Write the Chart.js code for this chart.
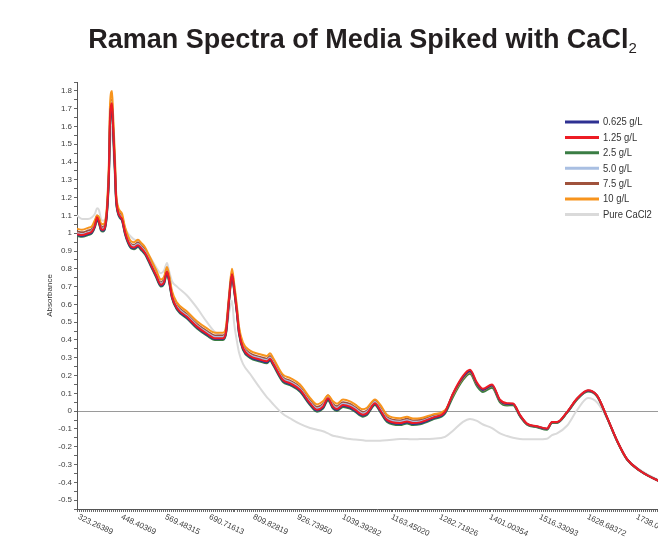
<!DOCTYPE html>
<html>
<head>
<meta charset="utf-8">
<script src="https://cdn.jsdelivr.net/npm/chart.js@4.4.1/dist/chart.umd.min.js"></script>
<style>
  html, body { margin: 0; padding: 0; background: #fff; width: 658px; height: 541px; overflow: hidden; }
  #wrap { position: relative; width: 658px; height: 541px; overflow: hidden; }
  #chart { position: absolute; left: 0; top: 0; }
  #title { position: absolute; left: 0; top: 24px; width: 725px; text-align: center; white-space: nowrap;
           font: bold 27px "Liberation Sans", Arial, sans-serif; color: #231f20; z-index: 2; }
  #title sub { font-size: 15px; font-weight: normal; vertical-align: -5px; line-height: 0; }
</style>
</head>
<body>
<div id="wrap">
  <canvas id="chart" width="680" height="541"></canvas>
  <div id="title">Raman Spectra of Media Spiked with CaCl<sub>2</sub></div>
</div>
<script>
// Detector channel of each sampled point along the spectrum
const channel = [
  0, 5, 11, 15, 18, 20, 22, 24, 26, 28,
  30, 32, 33, 35, 36, 38, 39, 41, 43, 45,
  48, 51, 54, 57, 61, 64, 68, 73, 79, 84,
  87, 90, 92, 95, 100, 110, 120, 130, 138, 146,
  149, 152, 155, 157, 160, 162, 166, 173, 183, 190,
  193, 196, 206, 213, 223, 233, 240, 246, 251, 256,
  260, 266, 273, 278, 286, 290, 298, 303, 310, 323,
  330, 336, 343, 356, 368, 376, 386, 393, 400, 406,
  415, 423, 430, 436, 443, 450, 460, 470, 475, 480,
  490, 500, 511, 520, 530, 540, 550, 563, 581, 591
];

// Absorbance of each sample at those channels
const media0625 = [
  0.99, 0.985, 0.995, 1.005, 1.04, 1.08, 1.06, 1.02, 1.015, 1.03,
  1.12, 1.35, 1.62, 1.72, 1.6, 1.35, 1.2, 1.115, 1.09, 1.075,
  1.0, 0.95, 0.92, 0.915, 0.928, 0.912, 0.886, 0.83, 0.76, 0.705,
  0.72, 0.78, 0.735, 0.64, 0.575, 0.525, 0.47, 0.43, 0.405, 0.405,
  0.44, 0.62, 0.765, 0.69, 0.55, 0.44, 0.35, 0.305, 0.285, 0.275,
  0.29, 0.265, 0.17, 0.152, 0.115, 0.04, 0.003, 0.02, 0.068, 0.02,
  0.007, 0.03, 0.02, 0.003, -0.025, -0.016, 0.04, 0.003, -0.054, -0.072,
  -0.063, -0.072, -0.068, -0.04, -0.007, 0.097, 0.19, 0.224, 0.153, 0.119,
  0.144, 0.059, 0.04, 0.04, -0.025, -0.072, -0.087, -0.1, -0.063, -0.063,
  -0.007, 0.069, 0.115, 0.087, -0.035, -0.166, -0.27, -0.335, -0.39, -0.41
];
const media125 = [
  0.995, 0.99, 1.0, 1.01, 1.045, 1.09, 1.065, 1.025, 1.02, 1.035,
  1.13, 1.36, 1.64, 1.73, 1.61, 1.36, 1.21, 1.12, 1.095, 1.08,
  1.005, 0.955, 0.925, 0.92, 0.933, 0.917, 0.89, 0.835, 0.765, 0.71,
  0.725, 0.785, 0.74, 0.645, 0.58, 0.53, 0.475, 0.435, 0.41, 0.41,
  0.445, 0.625, 0.77, 0.695, 0.555, 0.445, 0.355, 0.31, 0.29, 0.28,
  0.295, 0.27, 0.175, 0.157, 0.12, 0.045, 0.008, 0.025, 0.073, 0.025,
  0.012, 0.035, 0.025, 0.008, -0.02, -0.011, 0.045, 0.008, -0.049, -0.067,
  -0.058, -0.067, -0.063, -0.036, -0.003, 0.1, 0.198, 0.232, 0.16, 0.126,
  0.15, 0.064, 0.045, 0.043, -0.021, -0.07, -0.085, -0.098, -0.061, -0.061,
  -0.005, 0.071, 0.118, 0.089, -0.034, -0.165, -0.27, -0.335, -0.39, -0.41
];
const media25 = [
  0.985, 0.98, 0.99, 1.0, 1.035, 1.075, 1.055, 1.015, 1.01, 1.025,
  1.11, 1.33, 1.6, 1.7, 1.58, 1.33, 1.19, 1.11, 1.085, 1.07,
  0.995, 0.945, 0.915, 0.91, 0.922, 0.906, 0.88, 0.824, 0.754, 0.7,
  0.714, 0.772, 0.728, 0.634, 0.57, 0.52, 0.464, 0.424, 0.4, 0.4,
  0.434, 0.61, 0.755, 0.682, 0.544, 0.434, 0.344, 0.299, 0.279, 0.269,
  0.284, 0.259, 0.164, 0.146, 0.109, 0.034, -0.003, 0.014, 0.06, 0.014,
  0.001, 0.024, 0.014, -0.003, -0.031, -0.022, 0.034, -0.003, -0.06, -0.078,
  -0.069, -0.078, -0.074, -0.046, -0.014, 0.08, 0.175, 0.21, 0.14, 0.108,
  0.132, 0.05, 0.032, 0.033, -0.03, -0.076, -0.09, -0.104, -0.066, -0.066,
  -0.01, 0.064, 0.11, 0.083, -0.038, -0.168, -0.272, -0.336, -0.39, -0.41
];
const media50 = [
  1.0, 0.995, 1.005, 1.015, 1.05, 1.09, 1.07, 1.03, 1.025, 1.04,
  1.13, 1.36, 1.64, 1.74, 1.62, 1.36, 1.21, 1.125, 1.1, 1.087,
  1.012, 0.962, 0.932, 0.927, 0.94, 0.924, 0.898, 0.842, 0.772, 0.717,
  0.732, 0.79, 0.747, 0.652, 0.587, 0.537, 0.482, 0.442, 0.417, 0.417,
  0.452, 0.63, 0.775, 0.702, 0.562, 0.452, 0.362, 0.317, 0.297, 0.287,
  0.302, 0.277, 0.182, 0.164, 0.127, 0.052, 0.015, 0.032, 0.08, 0.032,
  0.019, 0.042, 0.032, 0.015, -0.013, -0.004, 0.052, 0.015, -0.042, -0.06,
  -0.051, -0.06, -0.058, -0.032, -0.002, 0.095, 0.19, 0.225, 0.154, 0.12,
  0.145, 0.06, 0.041, 0.041, -0.024, -0.071, -0.086, -0.099, -0.062, -0.062,
  -0.006, 0.07, 0.116, 0.088, -0.035, -0.166, -0.27, -0.335, -0.39, -0.41
];
const media75 = [
  1.01, 1.005, 1.015, 1.025, 1.06, 1.1, 1.08, 1.04, 1.035, 1.05,
  1.14, 1.38, 1.66, 1.75, 1.63, 1.38, 1.22, 1.135, 1.11, 1.095,
  1.02, 0.97, 0.94, 0.935, 0.948, 0.932, 0.906, 0.85, 0.78, 0.725,
  0.74, 0.795, 0.755, 0.66, 0.595, 0.545, 0.49, 0.45, 0.425, 0.425,
  0.46, 0.635, 0.78, 0.71, 0.57, 0.46, 0.37, 0.325, 0.305, 0.295,
  0.31, 0.285, 0.19, 0.172, 0.135, 0.06, 0.023, 0.04, 0.088, 0.04,
  0.027, 0.05, 0.04, 0.023, -0.005, 0.004, 0.06, 0.023, -0.034, -0.052,
  -0.043, -0.052, -0.05, -0.025, 0.0, 0.09, 0.185, 0.218, 0.148, 0.116,
  0.14, 0.056, 0.038, 0.039, -0.026, -0.073, -0.088, -0.101, -0.064, -0.064,
  -0.008, 0.068, 0.114, 0.086, -0.036, -0.167, -0.271, -0.335, -0.39, -0.41
];
const media10 = [
  1.025, 1.02, 1.03, 1.04, 1.075, 1.1, 1.09, 1.055, 1.05, 1.065,
  1.16, 1.42, 1.72, 1.8, 1.68, 1.42, 1.24, 1.15, 1.125, 1.11,
  1.035, 0.985, 0.955, 0.95, 0.963, 0.947, 0.921, 0.865, 0.795, 0.74,
  0.755, 0.81, 0.77, 0.675, 0.61, 0.56, 0.505, 0.465, 0.44, 0.44,
  0.475, 0.65, 0.8, 0.725, 0.585, 0.475, 0.385, 0.34, 0.32, 0.31,
  0.325, 0.3, 0.205, 0.187, 0.15, 0.075, 0.038, 0.055, 0.09, 0.055,
  0.042, 0.065, 0.055, 0.038, 0.01, 0.019, 0.065, 0.038, -0.02, -0.04,
  -0.032, -0.042, -0.04, -0.018, 0.005, 0.092, 0.185, 0.218, 0.15, 0.118,
  0.142, 0.058, 0.039, 0.04, -0.025, -0.072, -0.087, -0.1, -0.063, -0.063,
  -0.007, 0.069, 0.115, 0.087, -0.035, -0.166, -0.27, -0.335, -0.39, -0.41
];
const pureCaCl2 = [
  1.1, 1.08, 1.08, 1.09, 1.11, 1.14, 1.13, 1.08, 1.07, 1.075,
  1.12, 1.3, 1.5, 1.6, 1.5, 1.3, 1.18, 1.12, 1.1, 1.08,
  1.03, 1.0, 0.98, 0.965, 0.955, 0.93, 0.9, 0.866, 0.81, 0.775,
  0.79, 0.833, 0.79, 0.73, 0.7, 0.65, 0.58, 0.5, 0.445, 0.425,
  0.44, 0.55, 0.62, 0.5, 0.39, 0.33, 0.266, 0.21, 0.13, 0.078,
  0.06, 0.04, -0.016, -0.04, -0.072, -0.095, -0.105, -0.113, -0.125, -0.138,
  -0.143, -0.15, -0.157, -0.16, -0.164, -0.166, -0.166, -0.166, -0.164, -0.157,
  -0.157, -0.158, -0.157, -0.155, -0.145, -0.11, -0.06, -0.044, -0.055, -0.075,
  -0.095, -0.125, -0.14, -0.15, -0.157, -0.158, -0.158, -0.155, -0.135, -0.125,
  -0.082, 0.005, 0.074, 0.05, -0.04, -0.166, -0.27, -0.33, -0.385, -0.405
];

const seriesLabels = ['0.625 g/L', '1.25 g/L', '2.5 g/L', '5.0 g/L', '7.5 g/L', '10 g/L', 'Pure CaCl2'];
const seriesValues = [media0625, media125, media25, media50, media75, media10, pureCaCl2];
const seriesColors = ['#2e3192', '#ed1c24', '#3a7d44', '#a9bfe2', '#a0523c', '#f7941d', '#dadada'];
const drawOrder = [2, 1, 4, 5, 6, 3, 9];

// Raman shift (cm-1) labels and the channels they belong to
const shiftLabels = ['323.26389', '448.40369', '569.48315', '690.71613', '809.82819', '926.73950',
  '1039.39282', '1163.45020', '1282.71826', '1401.00354', '1516.33093', '1628.68372', '1738.04590'];
const shiftChannels = [2, 45, 89, 133, 177, 221, 266, 315, 363, 413, 463, 511, 560];

const FONT = '"Liberation Sans", Arial, sans-serif';

// Slanted Raman-shift labels hanging below the axis
const shiftLabelPlugin = {
  id: 'shiftLabels',
  afterDraw(chart) {
    const xs = chart.scales.x;
    const ctx = chart.ctx;
    ctx.save();
    ctx.fillStyle = '#3c3c3c';
    ctx.font = '8px ' + FONT;
    ctx.textAlign = 'left';
    ctx.textBaseline = 'top';
    shiftLabels.forEach((txt, i) => {
      const px = xs.getPixelForValue(shiftChannels[i]);
      ctx.save();
      ctx.translate(px + 1, xs.top + 4);
      ctx.rotate(25 * Math.PI / 180);
      ctx.fillText(txt, 0, 0);
      ctx.restore();
    });
    ctx.restore();
  }
};

// Legend inside the plot, upper right; text set in a narrowed face
const sideLegendPlugin = {
  id: 'sideLegend',
  afterDraw(chart) {
    const {ctx, chartArea} = chart;
    const x0 = chartArea.left + 488;
    const y0 = chartArea.top + 40;
    ctx.save();
    ctx.font = '10.5px ' + FONT;
    ctx.textAlign = 'left';
    ctx.textBaseline = 'middle';
    chart.data.datasets.forEach((ds, i) => {
      const y = y0 + i * 15.4;
      ctx.strokeStyle = ds.borderColor;
      ctx.lineWidth = 3;
      ctx.beginPath();
      ctx.moveTo(x0, y);
      ctx.lineTo(x0 + 34, y);
      ctx.stroke();
      ctx.fillStyle = '#333';
      ctx.save();
      ctx.translate(x0 + 38, y + 0.5);
      ctx.scale(0.9, 1);
      ctx.fillText(ds.label, 0, 0);
      ctx.restore();
    });
    ctx.restore();
  }
};

const datasets = seriesLabels.map((label, i) => ({
  label,
  data: channel.map((c, j) => ({ x: c, y: seriesValues[i][j] })),
  borderColor: seriesColors[i],
  backgroundColor: seriesColors[i],
  borderWidth: 2,
  pointRadius: 0,
  fill: false,
  cubicInterpolationMode: 'monotone',
  order: drawOrder[i]
}));

new Chart(document.getElementById('chart'), {
  type: 'line',
  data: { datasets },
  options: {
    responsive: false,
    animation: false,
    events: [],
    layout: { padding: { left: 40, top: 82, right: 3, bottom: 0 } },
    plugins: { legend: { display: false }, tooltip: { enabled: false }, title: { display: false } },
    scales: {
      x: {
        type: 'linear',
        min: 0,
        max: 600,
        border: { display: true, color: '#555', width: 1 },
        grid: { drawOnChartArea: false, drawTicks: true, tickLength: 3, color: '#6a6a6a' },
        ticks: { display: false },
        afterBuildTicks(scale) {
          const t = [];
          for (let v = 0; v <= 600; v += 2) t.push({ value: v });
          scale.ticks = t;
        },
        afterFit(scale) { scale.height = 32; }
      },
      y: {
        type: 'linear',
        min: -0.55,
        max: 1.85,
        border: { display: true, color: '#555', width: 1 },
        grid: {
          drawOnChartArea: true,
          drawTicks: true,
          tickLength: 3,
          color: (c) => (c.tick && Math.abs(c.tick.value) < 1e-9 ? '#9a9a9a' : 'rgba(0,0,0,0)'),
          tickColor: '#666'
        },
        ticks: {
          autoSkip: false,
          padding: 2,
          color: '#3c3c3c',
          font: { size: 8, family: FONT },
          callback: (v) => {
            const k = Math.round(v * 20);
            return k % 2 === 0 ? String(k / 20) : '';
          }
        },
        afterBuildTicks(scale) {
          const t = [];
          for (let k = -11; k <= 37; k++) t.push({ value: k * 0.05 });
          scale.ticks = t;
        },
        afterFit(scale) { scale.width = 37; },
        title: { display: true, text: 'Absorbance', color: '#333', font: { size: 8, family: FONT }, padding: 5 }
      }
    }
  },
  plugins: [shiftLabelPlugin, sideLegendPlugin]
});
</script>
</body>
</html>
